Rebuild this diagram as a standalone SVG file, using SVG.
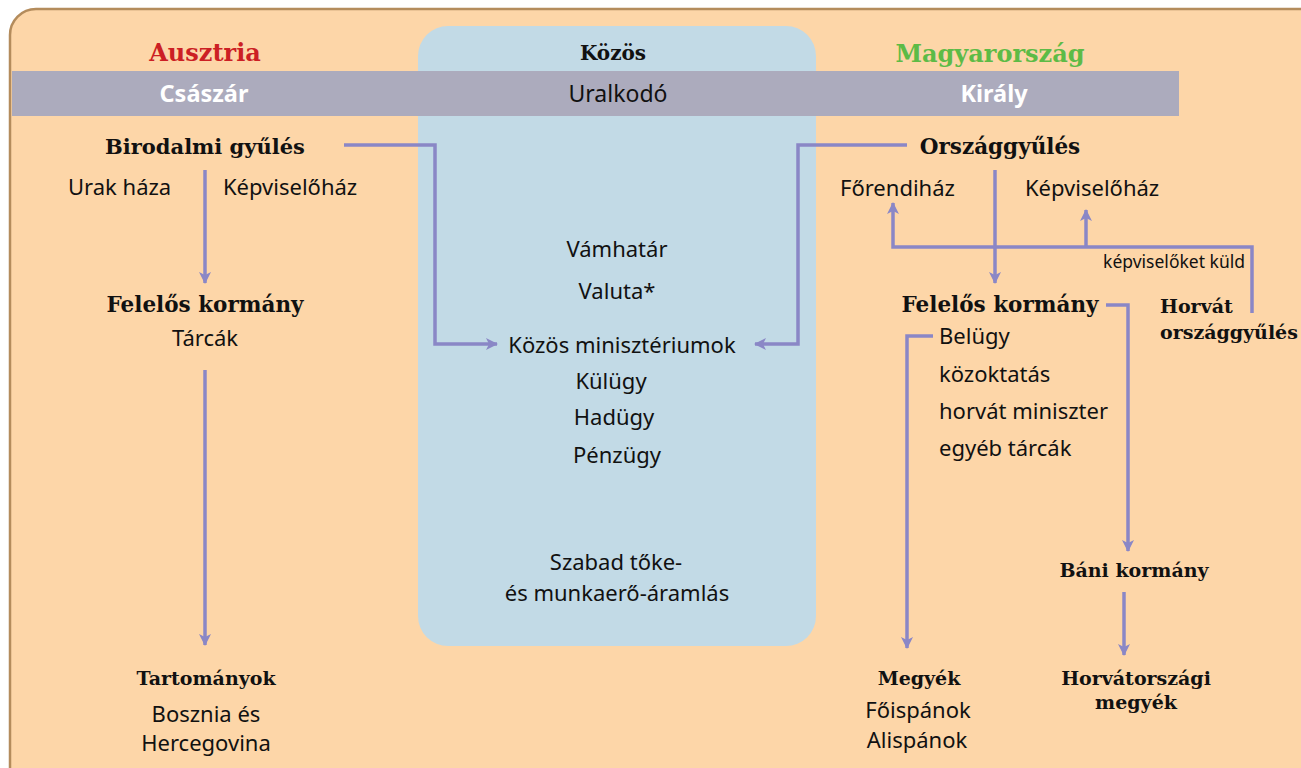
<svg xmlns="http://www.w3.org/2000/svg" width="1301" height="768" viewBox="0 0 1301 768">
<defs>
<style>
.h{font-family:"DejaVu Serif","Liberation Serif",serif;font-weight:bold;fill:#111;}
.t{font-family:"Noto Sans","Open Sans",sans-serif;fill:#111;font-size:22px;}
.w{font-family:"Noto Sans","Open Sans",sans-serif;font-weight:bold;fill:#fff;font-size:23.5px;}
.c{fill:none;stroke:#8A87C6;stroke-width:3.5;}
</style>
<marker id="ah" viewBox="0 0 12 12" refX="11" refY="6" markerWidth="12" markerHeight="12" markerUnits="userSpaceOnUse" orient="auto">
<path d="M0,0 L12,6 L0,12 L3,6 Z" fill="#8A87C6"/>
</marker>
</defs>
<rect x="10" y="9" width="1320" height="790" rx="26" fill="#FDD6A8" stroke="#B48C5C" stroke-width="2.5"/>
<rect x="418" y="26" width="398" height="620" rx="30" fill="#C2DAE6"/>
<rect x="12" y="71" width="1167" height="45" fill="#ACABBD"/>
<g id="headers">
<text x="205" y="61" class="h" font-size="24" style="fill:#CC1F24" text-anchor="middle">Ausztria</text>
<text x="613" y="60" class="h" font-size="20" text-anchor="middle">Közös</text>
<text x="990" y="62" class="h" font-size="24" style="fill:#5DBB46" text-anchor="middle">Magyarország</text>
<text x="204" y="102" class="w" text-anchor="middle">Császár</text>
<text x="618" y="102" class="t" style="font-size:23px" text-anchor="middle">Uralkodó</text>
<text x="994" y="102" class="w" text-anchor="middle">Király</text>
</g>
<g id="birodalmi"><text x="205" y="154" class="h" font-size="21" text-anchor="middle">Birodalmi gyűlés</text>
<text x="68" y="195" class="t">Urak háza</text>
<text x="223" y="195" class="t">Képviselőház</text></g>
<g id="felelos-a"><text x="205" y="312" class="h" font-size="21.5" text-anchor="middle">Felelős kormány</text>
<text x="205" y="346" class="t" text-anchor="middle">Tárcák</text></g>
<g id="tartomanyok"><text x="206" y="685" class="h" font-size="19" text-anchor="middle">Tartományok</text>
<text x="206" y="722" class="t" text-anchor="middle">Bosznia és</text>
<text x="206" y="751" class="t" text-anchor="middle">Hercegovina</text></g>
<g id="kozos">
<text x="617" y="257" class="t" text-anchor="middle">Vámhatár</text>
<text x="617" y="299" class="t" text-anchor="middle">Valuta*</text>
<text x="622" y="353" class="t" text-anchor="middle">Közös minisztériumok</text>
<text x="611" y="389" class="t" text-anchor="middle">Külügy</text>
<text x="614" y="425" class="t" text-anchor="middle">Hadügy</text>
<text x="617" y="463" class="t" text-anchor="middle">Pénzügy</text>
<text x="616" y="570" class="t" text-anchor="middle">Szabad tőke-</text>
<text x="617" y="601" class="t" text-anchor="middle">és munkaerő-áramlás</text>
</g>
<g id="orszaggyules"><text x="1000" y="154" class="h" font-size="21.5" text-anchor="middle">Országgyűlés</text>
<text x="840" y="196" class="t">Főrendiház</text>
<text x="1025" y="196" class="t">Képviselőház</text></g>
<g id="felelos-m"><text x="1000" y="312" class="h" font-size="21.5" text-anchor="middle">Felelős kormány</text>
<text x="939" y="344" class="t">Belügy</text>
<text x="939" y="382" class="t">közoktatás</text>
<text x="939" y="419" class="t">horvát miniszter</text>
<text x="939" y="456" class="t">egyéb tárcák</text></g>
<g id="horvat-og"><text x="1160" y="313" class="h" font-size="19">Horvát</text>
<text x="1160" y="339" class="h" font-size="19">országgyűlés</text></g>
<g id="bani"><text x="1134" y="577" class="h" font-size="19" text-anchor="middle">Báni kormány</text></g>
<g id="megyek"><text x="919" y="685" class="h" font-size="19" text-anchor="middle">Megyék</text>
<text x="918" y="718" class="t" text-anchor="middle">Főispánok</text>
<text x="917" y="748" class="t" text-anchor="middle">Alispánok</text></g>
<g id="horvat-megyek"><text x="1136" y="685" class="h" font-size="19" text-anchor="middle">Horvátországi</text>
<text x="1136" y="709" class="h" font-size="19" text-anchor="middle">megyék</text></g>
<g id="connectors">
<line x1="205" y1="170" x2="205" y2="283" class="c" marker-end="url(#ah)"/>
<line x1="205" y1="370" x2="205" y2="645" class="c" marker-end="url(#ah)"/>
<polyline points="344,145 435,145 435,344 497,344" class="c" marker-end="url(#ah)"/>
<polyline points="907,145 798,145 798,344 755,344" class="c" marker-end="url(#ah)"/>
<line x1="995" y1="170" x2="995" y2="283" class="c" marker-end="url(#ah)"/>
<polyline points="1252,313 1252,247 893,247 893,203" class="c" marker-end="url(#ah)"/>
<line x1="1086" y1="247" x2="1086" y2="210" class="c" marker-end="url(#ah)"/>
<polyline points="1106,305 1128,305 1128,551" class="c" marker-end="url(#ah)"/>
<polyline points="933,336 907,336 907,648" class="c" marker-end="url(#ah)"/>
<line x1="1124" y1="592" x2="1124" y2="655" class="c" marker-end="url(#ah)"/>
<text x="1245" y="268" class="t" style="font-size:17.5px" text-anchor="end">képviselőket küld</text>
</g>
</svg>
